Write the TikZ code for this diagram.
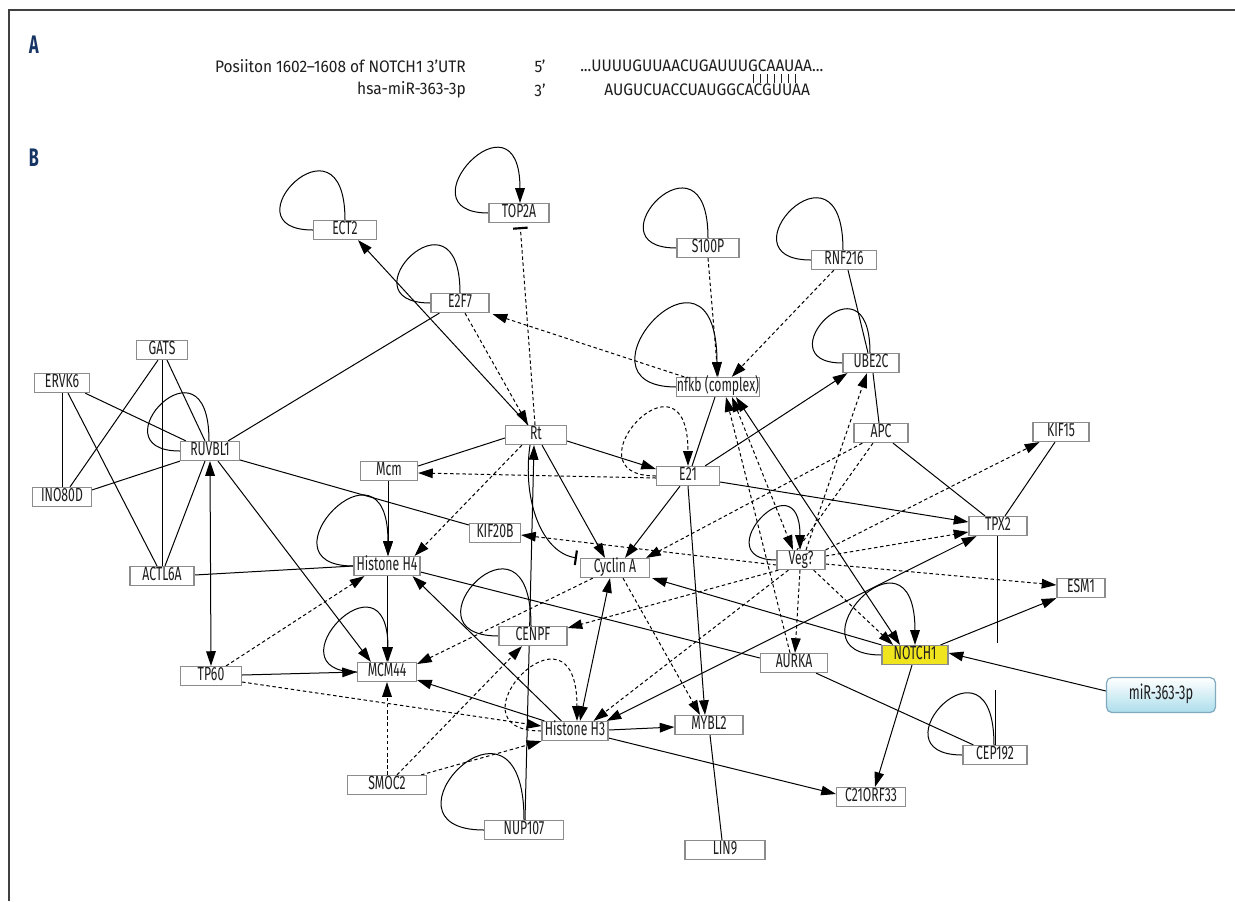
\documentclass[tikz,border=0pt]{standalone}
\usepackage{fontspec}
\setmainfont{Fira Sans}
\newfontfamily\lab[FakeStretch=0.64]{Fira Sans}
\newfontfamily\seqfont[FakeStretch=0.93]{Fira Sans}
\usetikzlibrary{arrows.meta,calc}
\pgfdeclarelayer{bg}
\pgfsetlayers{bg,main}
\definecolor{navy}{RGB}{22,52,100}
\definecolor{boxg}{RGB}{140,140,140}
\definecolor{notch}{RGB}{240,228,30}
\definecolor{mirbot}{RGB}{172,222,236}
\definecolor{mirdraw}{RGB}{130,170,190}
\definecolor{txt}{RGB}{30,30,30}
\tikzset{
  gene/.style={draw=boxg, line width=0.9pt, fill=white, inner sep=0pt,
    minimum height=14.25pt, text height=9.8pt, text depth=2.4pt,
    font=\lab\fontsize{14.3}{16}\selectfont, text=txt},
  boxw/.style={minimum width=#1*0.75pt},
  ln/.style={line width=0.75pt},
  dsh/.style={dash pattern=on 2.6pt off 2pt},
  tip/.tip={Triangle[length=11pt,width=7.2pt]},
  arr/.style={ln, -tip},
  dbl/.style={ln, tip-tip},
  darr/.style={ln, dsh, -tip},
  ddbl/.style={ln, dsh, tip-tip},
  barend/.style={ln, -{Bar[width=11pt,line width=1.6pt]}},
  seqf/.style={font=\seqfont\fontsize{12.5}{14}\selectfont, text=txt, inner sep=0pt}
}
\begin{document}
\begin{tikzpicture}[x=0.75pt,y=-0.75pt]
\useasboundingbox (0,0) rectangle (1235,901);

% ---------- Panel A ----------
\node[font=\lab\bfseries\fontsize{19}{20}\selectfont, text=navy] (lA) at (34,45) {A};
\node[font=\lab\bfseries\fontsize{19}{20}\selectfont, text=navy] (lB) at (34,158) {B};
\node[seqf, anchor=east] (t1) at (466,66) {Posiiton 1602–1608 of NOTCH1 3’UTR};
\node[seqf] (p5) at (540,66) {5’};
\node[seqf, anchor=west] (s1) at (580,66) {...UUUUGUUAACUGAUUUGCAAUAA...};
\node[seqf, anchor=east] (t2) at (466,90) {hsa-miR-363-3p};
\node[seqf] (p3) at (540,90) {3’};
\node[seqf, anchor=west] (s2) at (604,90) {AUGUCUACCUAUGGCACGUUAA};
\foreach \i in {0,...,6} \draw[line width=0.7pt, txt] ({753+7.1*\i},74) -- ++(0,9);

% ---------- Nodes ----------
\node[gene,boxw=63] (ECT2) at (345,230) {ECT2};
\node[gene,boxw=60] (TOP2A) at (519,213) {TOP2A};
\node[gene,boxw=62] (S100P) at (708,248) {S100P};
\node[gene,boxw=65] (RNF216) at (844,260) {RNF216};
\node[gene,boxw=58] (E2F7) at (460,303) {E2F7};
\node[gene,boxw=51] (GATS) at (162,350) {GATS};
\node[gene,boxw=55] (ERVK6) at (62,383) {ERVK6};
\node[gene,boxw=79] (nfkb) at (718,387) {nfkb (complex)};
\node[gene,boxw=56] (UBE2C) at (871,363) {UBE2C};
\node[gene,boxw=59] (RUVBL1) at (210,451) {RUVBL1};
\node[gene,boxw=61] (Rt) at (536,435) {Rt};
\node[gene,boxw=54] (APC) at (881,433) {APC};
\node[gene,boxw=56] (KIF15) at (1061,432) {KIF15};
\node[gene,boxw=57] (Mcm) at (389,471) {Mcm};
\node[gene,boxw=63] (E21) at (688,476) {E21};
\node[gene,boxw=59] (INO80D) at (62,497) {INO80D};
\node[gene,boxw=51] (KIF20B) at (495,533) {KIF20B};
\node[gene,boxw=58] (TPX2) at (998,526) {TPX2};
\node[gene,boxw=64] (ACTL6A) at (162,576) {ACTL6A};
\node[gene,boxw=66] (H4) at (387,566) {Histone H4};
\node[gene,boxw=69] (CycA) at (615,568) {Cyclin A};
\node[gene,boxw=48] (Veg) at (801,560) {Veg?};
\node[gene,boxw=48] (ESM1) at (1081,588) {ESM1};
\node[gene,boxw=68] (CENPF) at (533,636) {CENPF};
\node[gene,boxw=66,fill=notch] (NOTCH1) at (915,655) {NOTCH1};
\node[gene,boxw=67] (AURKA) at (794,663) {AURKA};
\node[gene,boxw=61] (TP60) at (211,676) {TP60};
\node[gene,boxw=59] (MCM44) at (387,672) {MCM44};
\node[gene,boxw=66] (H3) at (575,731) {Histone H3};
\node[gene,boxw=68] (MYBL2) at (709,725) {MYBL2};
\node[gene,boxw=64] (CEP192) at (995,755) {CEP192};
\node[gene,boxw=79] (SMOC2) at (387,785) {SMOC2};
\node[gene,boxw=69] (C21) at (871,797) {C21ORF33};
\node[gene,boxw=79] (NUP107) at (524,830) {NUP107};
\node[gene,boxw=80] (LIN9) at (725,850) {LIN9};
\node[draw=mirdraw, line width=0.9pt, rounded corners=4pt, top color=white, bottom color=mirbot,
  minimum width=109*0.75pt, minimum height=35*0.75pt, inner sep=0pt, text height=9.8pt, text depth=2.4pt,
  font=\lab\fontsize{15}{17}\selectfont, text=txt] (miR) at (1161,695) {miR-363-3p};
\coordinate (tpxend) at (997,643);
\coordinate (cepend) at (995,690);

\begin{pgfonlayer}{bg}
\fill[white] (0,0) rectangle (1235,901);
\draw[line width=0.9pt, black!75] (9,901) -- (9,10) -- (1235,10);
% ---------- self loops ----------
\draw[ln]  (ECT2.west) .. controls +(-90,0) and +(0,-116) .. (ECT2.north);
\draw[arr] (TOP2A.west) .. controls +(-90,0) and +(0,-120) .. ($(TOP2A.north)+(1,0)$);
\draw[ln]  (E2F7.west) .. controls +(-90,0) and +(0,-114) .. (E2F7.north);
\draw[ln]  (S100P.west) .. controls +(-90,0) and +(0,-118) .. (S100P.north);
\draw[ln]  (RNF216.west) .. controls +(-93,0) and +(0,-123) .. ($(RNF216.north)+(-1,0)$);
\draw[arr] (nfkb.west) .. controls +(-113,0) and +(0,-162) .. ($(nfkb.north)+(-1,0)$);
\draw[ln]  (UBE2C.west) .. controls +(-81,0) and +(0,-105) .. ($(UBE2C.north)+(-1,0)$);
\draw[ln]  (RUVBL1.west) .. controls +(-87,0) and +(0,-114) .. ($(RUVBL1.north)+(-1,0)$);
\draw[darr] (E21.west) .. controls +(-93,0) and +(0,-128) .. (E21.north);
\draw[arr] (H4.west) .. controls +(-99,0) and +(0,-132) .. ($(H4.north)+(1,0)$);
\draw[arr] (MCM44.west) .. controls +(-90,0) and +(0,-118) .. ($(MCM44.north)+(1,0)$);
\draw[ln]  (CENPF.west) .. controls +(-101,0) and +(0,-134) .. ($(CENPF.north)+(-2,0)$);
\draw[ln]  (NUP107.west) .. controls +(-116,0) and +(0,-155) .. (NUP107.north);
\draw[ln]  (CEP192.west) .. controls +(-93,0) and +(0,-123) .. ($(CEP192.north)+(-1,0)$);
\draw[arr] (Veg.west) .. controls +(-73,0) and +(0,-94) .. ($(Veg.north)+(-1,0)$);
\draw[arr] (NOTCH1.west) .. controls +(-99,0) and +(0,-134) .. (NOTCH1.north);
\draw[darr] (H3.west) .. controls +(-99,0) and +(0,-134) .. ($(H3.north)+(2,0)$);

% ---------- undirected solid ----------
\draw[ln] ($(GATS.south)+(-4,0)$) -- ($(INO80D.north)+(8,0)$);
\draw[ln] (GATS.south) -- (ACTL6A.north);
\draw[ln] ($(GATS.south)+(5,0)$) -- ($(RUVBL1.north)+(-5,0)$);
\draw[ln] (ERVK6) -- (INO80D);
\draw[ln] ($(ERVK6.south)+(6,0)$) -- ($(ACTL6A.north)+(-5,0)$);
\draw[ln] ($(ERVK6.south east)+(-5,0)$) -- ($(RUVBL1.north west)+(6,0)$);
\draw[ln] ($(INO80D.north east)+(0,3)$) -- (RUVBL1.south west);
\draw[ln] ($(ACTL6A.north)+(3,0)$) -- ($(RUVBL1.south)+(-5,0)$);
\draw[ln] ($(RUVBL1.north east)+(-12,0)$) -- ($(E2F7.south west)+(9,0)$);
\draw[ln] ($(RUVBL1.east)+(0,9)$) -- ($(KIF20B.west)+(0,-8)$);
\draw[ln] ($(ACTL6A.east)+(0,-1)$) -- (H4.west);
\draw[ln] ($(H4.east)+(0,6)$) -- ($(AURKA.west)+(0,-5)$);
\draw[ln] ($(AURKA.south)+(22,0)$) -- ($(CEP192.north west)+(11,0)$);
\draw[ln] ($(E21.north)+(4,0)$) -- ($(nfkb.south)+(-3,0)$);
\draw[ln] ($(RNF216.south)+(4,0)$) -- ($(UBE2C.north)+(-3,0)$);
\draw[ln] ($(UBE2C.south)+(2,0)$) -- ($(APC.north)+(-2,0)$);
\draw[ln] ($(APC.south)+(12,0)$) -- ($(TPX2.north)+(-13,0)$);
\draw[ln] ($(TPX2.north)+(7,0)$) -- ($(KIF15.south)+(-6,0)$);
\draw[ln] ($(TPX2.south)+(-1,0)$) -- (tpxend);
\draw[ln] (cepend) -- ($(CEP192.north)+(0,0)$);
\draw[ln] ($(MYBL2.south)+(1,0)$) -- ($(LIN9.north)+(-3,0)$);
\draw[ln] ($(Rt.west)+(0,3)$) -- ($(Mcm.east)+(0,-5)$);

% ---------- directed solid ----------
\draw[arr] ($(Rt.north)+(-8,0)$) -- ($(ECT2.south)+(13,0)$);
\draw[arr] ($(Rt.east)+(0,6)$) -- ($(E21.west)+(0,-7)$);
\draw[arr] ($(Rt.south)+(6,0)$) -- ($(CycA.north)+(-10,0)$);
\draw[arr] ($(E21.south)+(-8,0)$) -- ($(CycA.north)+(10,0)$);
\draw[arr] ($(E21.north east)+(-15,0)$) -- ($(UBE2C.south west)+(5,0)$);
\draw[arr] (E21.south) -- ($(MYBL2.north)+(-4,0)$);
\draw[arr] ($(E21.east)+(0,6)$) -- ($(TPX2.west)+(0,-4)$);
\draw[arr] ($(NUP107.north)+(1,0)$) -- ($(Rt.south)+(-2,0)$);
\draw[arr] ($(Mcm.south)+(-1,0)$) -- ($(H4.north)+(1,0)$);
\draw[arr] (H4) -- (MCM44);
\draw[arr] ($(RUVBL1.south)+(8,0)$) -- ($(MCM44.north west)+(14,0)$);
\draw[dbl] (RUVBL1.south) -- (TP60.north);
\draw[arr] ($(TP60.east)+(0,-1)$) -- (MCM44.west);
\draw[arr] ($(H3.north west)+(3,0)$) -- ($(MCM44.east)+(0,8)$);
\draw[arr] ($(H3.north west)+(20,0)$) -- ($(H4.south east)+(-8,0)$);
\draw[dbl] ($(CycA.south)+(-5,0)$) -- ($(H3.north)+(5,0)$);
\draw[arr] ($(H3.east)+(0,-1)$) -- ($(MYBL2.west)+(0,2)$);
\draw[arr] ($(H3.east)+(0,7)$) -- ($(C21.west)+(0,-3)$);
\draw[dbl] ($(H3.north east)+(-2,0)$) -- ($(TPX2.south west)+(8,0)$);
\draw[arr] (NOTCH1.north west) -- ($(CycA.south east)+(2,0)$);
\draw[dbl] ($(nfkb.south)+(18,0)$) -- ($(NOTCH1.north)+(-15,0)$);
\draw[arr] ($(NOTCH1.south)+(-3,0)$) -- ($(C21.north)+(4,0)$);
\draw[arr] ($(NOTCH1.north east)+(-8,0)$) -- (ESM1.south west);
\draw[arr] ($(miR.west)+(0,-4)$) -- ($(NOTCH1.east)+(0,-2)$);
\draw[barend] ($(Rt.south)+(-6,0)$) .. controls +(-8,55) and +(-35,-5) .. ($(CycA.north west)+(-3,0)$);

% ---------- dashed ----------
\draw[darr] ($(E2F7.south)+(5,0)$) -- ($(Rt.north)+(-8,0)$);
\draw[barend, dsh, shorten >=3pt] ($(Rt.north)+(-1,0)$) -- ($(TOP2A.south)+(1,0)$);
\draw[darr] ($(nfkb.north west)+(8,0)$) -- ($(E2F7.south east)+(3,1)$);
\draw[darr] (S100P.south) -- (nfkb.north);
\draw[darr] ($(RNF216.south west)+(23,0)$) -- ($(nfkb.north east)+(-28,0)$);
\draw[darr] ($(E21.west)+(0,2)$) -- ($(Mcm.east)+(0,2)$);
\draw[darr] ($(Rt.south west)+(17,0)$) -- ($(H4.north east)+(-6,0)$);
\draw[darr] ($(TP60.north east)+(-16,0)$) -- ($(H4.south west)+(11,0)$);
\draw[darr] ($(TP60.east)+(0,6)$) -- ($(H3.west)+(0,-5)$);
\draw[darr] (SMOC2.north) -- (MCM44.south);
\draw[darr] ($(SMOC2.north)+(10,0)$) -- ($(CENPF.south)+(-11,0)$);
\draw[darr] ($(SMOC2.north east)+(-6,0)$) -- (H3.south west);
\draw[darr] ($(CycA.south west)+(13,0)$) -- ($(MCM44.east)+(0,-8)$);
\draw[darr] ($(CycA.south)+(8,0)$) -- ($(MYBL2.north)+(-9,0)$);
\draw[darr] ($(APC.south west)+(9,0)$) -- ($(CycA.north east)+(-4,0)$);
\draw[ln, dsh] ($(APC.south)+(-8,0)$) -- ($(Veg.north)+(-4,0)$);
\draw[darr] ($(Veg.north)+(5,0)$) -- ($(UBE2C.south)+(-4,0)$);
\draw[ddbl] ($(nfkb.south)+(14,0)$) -- ($(Veg.north)+(-8,0)$);
\draw[darr] ($(AURKA.north)+(-4,0)$) -- ($(nfkb.south)+(8,0)$);
\draw[darr] ($(Veg.south)+(-1,0)$) -- ($(AURKA.north)+(1,0)$);
\draw[darr] (Veg.north east) -- ($(KIF15.south west)+(7,0)$);
\draw[darr] ($(Veg.east)+(0,-4)$) -- ($(TPX2.west)+(0,6)$);
\draw[darr] ($(Veg.east)+(0,4)$) -- ($(ESM1.west)+(0,-3)$);
\draw[darr] ($(Veg.south east)+(-12,0)$) -- ($(NOTCH1.north)+(-22,0)$);
\draw[darr] ($(Veg.west)+(0,5)$) -- ($(KIF20B.east)+(0,2)$);
\draw[darr] ($(Veg.south west)+(2,0)$) -- ($(CENPF.east)+(0,-8)$);
\draw[darr] ($(Veg.south west)+(12,0)$) -- ($(H3.north east)+(-15,0)$);
\end{pgfonlayer}
\end{tikzpicture}
\end{document}
